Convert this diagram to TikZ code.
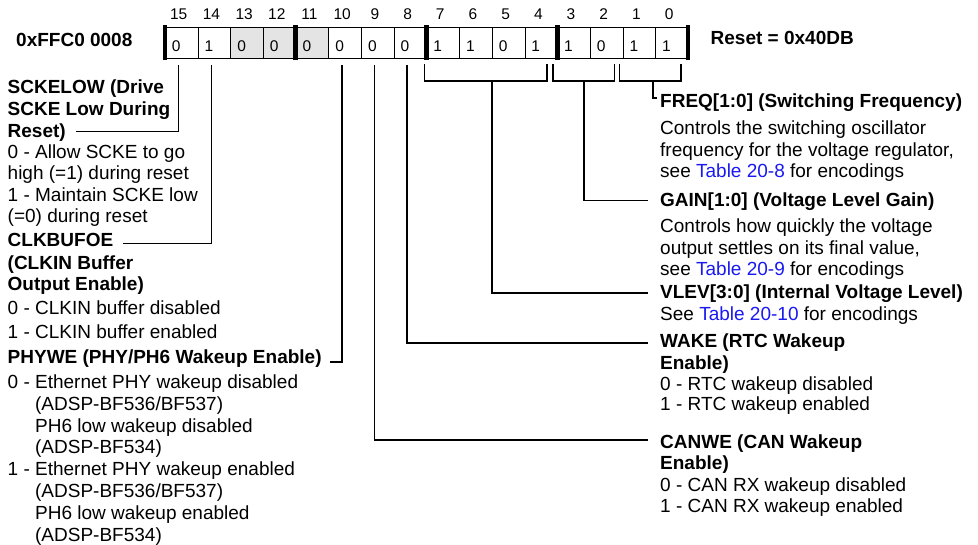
\documentclass[tikz,border=0pt]{standalone}
\usepackage{fontspec}
\setmainfont{Liberation Sans}
\usepackage{xcolor}
\usepackage{tikz}
\usetikzlibrary{positioning, calc}
\definecolor{regshade}{RGB}{228,228,228}
\definecolor{linkblue}{RGB}{25,25,240}
\newcommand{\tabref}[1]{\textcolor{linkblue}{Table #1}}

\begin{document}
\begin{tikzpicture}[x=1pt, y=-1pt,
        regcell/.style={draw, line width=0.8pt, anchor=north west, minimum width=32.6875pt,
            text width=19.7pt, inner xsep=6.5pt, inner ysep=0pt, text height=24pt,
            text depth=7.6pt, align=left, font=\fontsize{15.5}{17}\selectfont},
        bitnum/.style={anchor=base, inner sep=0pt, font=\fontsize{15.5}{17}\selectfont},
        fieldname/.style={anchor=base west, inner sep=0pt, align=left,
            font=\fontsize{19}{21.5}\selectfont\bfseries},
        fielddesc/.style={anchor=base west, inner sep=0pt, align=left,
            font=\fontsize{19}{21.5}\selectfont},
        wire/.style={line width=1.6pt}]
            \useasboundingbox (0,0) rectangle (978,545);
            \foreach \b/\v/\c in {15/0/white, 14/1/white, 13/0/regshade, 12/0/regshade,
                                  11/0/regshade, 10/0/white, 9/0/white, 8/0/white,
                                  7/1/white, 6/1/white, 5/0/white, 4/1/white,
                                  3/1/white, 2/0/white, 1/1/white, 0/1/white} {
                \node[regcell, fill=\c] (b\b) at ({165+(15-\b)*32.6875}, 26.7) {\v};
                \node[bitnum] (n\b) at ([xshift=-3pt, yshift=6.7pt]b\b.north) {\b};
            }
            \foreach \i in {0,4,...,16} {
                \fill ({165+\i*32.6875-2.35}, 25) rectangle ++(4.7, 35);
            }
            \node[fieldname] (regaddr) at (16, 46.7) {0xFFC0 0008};
            \node[fieldname] (resetval) at (710.5, 45) {Reset = 0x40DB};

            \draw[wire] ([xshift=-2pt, yshift=-4.7pt]b7.south west) -- ++(0, 17)
                -| ([xshift=-11pt, yshift=-4.7pt]b4.south east);
            \draw[wire] ([xshift=-4pt, yshift=-4.7pt]b3.south west) -- ++(0, 17)
                -| ([xshift=-9pt, yshift=-4.7pt]b2.south east);
            \draw[wire] ([xshift=-3pt, yshift=-4.7pt]b1.south west) -- ++(0, 17)
                -| ([xshift=-8pt, yshift=-4.7pt]b0.south east);
            \coordinate (vlevtap) at (492, 80);
            \coordinate (gaintap) at (584, 80);
            \coordinate (freqtap) at (652.7, 80);

            \node[fieldname] (sckelow) at (7.5, 115.5) {SCKELOW (Drive\\SCKE Low During};
            \node[fieldname] (sckelowend) at (7.5, 137.5) {Reset)};
            \node[fielddesc] (sckelowdesc) at (7.5, 223) {0 - Allow SCKE to go\\high (=1) during reset\\1 - Maintain SCKE low\\(=0) during reset};
            \node[fieldname] (clkbufoe) at (7.5, 246.7) {CLKBUFOE};
            \node[fieldname] (clkbufoeend) at (7.5, 290.8) {(CLKIN Buffer\\Output Enable)};
            \node[fielddesc] (clkbufoedesc) at (7.5, 338.3) {0 - CLKIN buffer disabled\\[1.8pt]1 - CLKIN buffer enabled};
            \node[fieldname] (phywe) at (7.5, 364) {PHYWE (PHY/PH6 Wakeup Enable)};
            \node[fielddesc, font=\fontsize{19}{21.8}\selectfont] (phywedesc) at (7.5, 541) {0 - Ethernet PHY wakeup disabled\\\phantom{0 - }(ADSP-BF536/BF537)\\\phantom{0 - }PH6 low wakeup disabled\\\phantom{0 - }(ADSP-BF534)\\1 - Ethernet PHY wakeup enabled\\\phantom{0 - }(ADSP-BF536/BF537)\\\phantom{0 - }PH6 low wakeup enabled\\\phantom{0 - }(ADSP-BF534)};

            \node[fieldname] (freq) at (660, 108) {FREQ[1:0] (Switching Frequency)};
            \node[fielddesc] (freqdesc) at (660, 178) {Controls the switching oscillator\\frequency for the voltage regulator,\\see \tabref{20-8} for encodings};
            \node[fieldname] (gain) at (660, 206.5) {GAIN[1:0] (Voltage Level Gain)};
            \node[fielddesc] (gaindesc) at (660, 276) {Controls how quickly the voltage\\output settles on its final value,\\see \tabref{20-9} for encodings};
            \node[fieldname] (vlev) at (660, 299) {VLEV[3:0] (Internal Voltage Level)};
            \node[fielddesc] (vlevdesc) at (660, 321) {See \tabref{20-10} for encodings};
            \node[fieldname] (wake) at (660, 369.5) {WAKE (RTC Wakeup\\Enable)};
            \node[fielddesc, font=\fontsize{19}{20.5}\selectfont] (wakedesc) at (660, 410.5) {0 - RTC wakeup disabled\\1 - RTC wakeup enabled};
            \node[fieldname] (canwe) at (660, 469.8) {CANWE (CAN Wakeup\\Enable)};
            \node[fielddesc, font=\fontsize{19}{20.5}\selectfont] (canwedesc) at (660, 512.2) {0 - CAN RX wakeup disabled\\1 - CAN RX wakeup enabled};

            \draw[wire] ([xshift=-3.4pt, yshift=-5.7pt]b15.south) |- ([xshift=10pt, yshift=6pt]sckelowend.base east);
            \draw[wire] ([xshift=-3pt, yshift=-5.7pt]b14.south) |- ([xshift=10pt, yshift=3pt]clkbufoe.base east);
            \draw[wire] ([xshift=-3.4pt, yshift=-5.7pt]b10.south) |- ([xshift=8pt, yshift=2pt]phywe.base east);
            \draw[wire] ([xshift=-3.4pt, yshift=-5.7pt]b9.south) |- ([xshift=-12pt, yshift=29.5pt]canwe.base west);
            \draw[wire] ([xshift=-3.4pt, yshift=-5.7pt]b8.south) |- ([xshift=-12pt, yshift=26.5pt]wake.base west);
            \draw[wire] (vlevtap) |- ([xshift=-12pt, yshift=6pt]vlev.base west);
            \draw[wire] (gaintap) |- ([xshift=-12pt, yshift=6pt]gain.base west);
            \draw[wire] (freqtap) |- ([xshift=-3pt, yshift=10pt]freq.base west);
        \end{tikzpicture}
\end{document}
